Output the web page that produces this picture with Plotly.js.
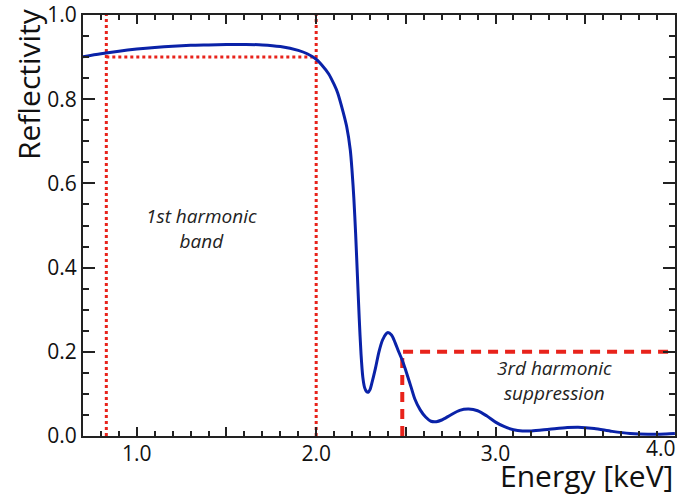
<!DOCTYPE html>
<html>
<head>
<meta charset="utf-8">
<script src="https://cdn.plot.ly/plotly-3.0.1.min.js"></script>
<style>html,body{margin:0;padding:0;background:#fff;}#chart{width:681px;height:498px;}</style>
</head>
<body>
<div id="chart"></div>
<script>
// Reflectivity curve (energy in keV)
const energy = [0.70,0.80,0.90,1.00,1.10,1.20,1.30,1.40,1.50,1.60,1.70,1.80,1.90,1.95,2.00,2.03,2.07,2.10,2.12,2.15,2.17,2.19,2.20,2.21,2.22,2.23,2.24,2.25,2.26,2.27,2.28,2.29,2.30,2.31,2.33,2.35,2.37,2.39,2.40,2.42,2.44,2.46,2.48,2.50,2.53,2.55,2.58,2.61,2.64,2.67,2.70,2.75,2.80,2.85,2.90,2.95,3.00,3.05,3.10,3.15,3.20,3.30,3.40,3.46,3.55,3.65,3.75,3.85,3.95,4.00];
const reflectivity = [0.901,0.908,0.914,0.919,0.923,0.926,0.928,0.929,0.930,0.930,0.929,0.925,0.916,0.908,0.895,0.882,0.860,0.835,0.815,0.770,0.735,0.680,0.630,0.565,0.480,0.380,0.280,0.195,0.140,0.115,0.106,0.104,0.110,0.125,0.160,0.200,0.228,0.243,0.246,0.240,0.222,0.200,0.180,0.155,0.115,0.088,0.062,0.045,0.035,0.034,0.038,0.050,0.061,0.064,0.060,0.048,0.033,0.022,0.015,0.012,0.012,0.016,0.020,0.021,0.018,0.011,0.006,0.004,0.005,0.006];

// 1st harmonic band markers (dotted)
const bandLowX = [0.83, 0.83];
const bandLowY = [0.0, 1.0];
const bandHighX = [2.0, 2.0];
const bandHighY = [0.0, 1.0];
const bandLevelX = [0.83, 2.0];
const bandLevelY = [0.9, 0.9];

// 3rd harmonic suppression markers (dashed)
const suppX = [2.48, 2.48, 4.0];
const suppY = [0.0, 0.2, 0.2];

// Axis ticks: long ticks every 0.5 keV, labels only on whole keV
const xTickVals = [1.0, 1.5, 2.0, 2.5, 3.0, 3.5, 4.0];
const xTickText = ['1.0', ' ', '2.0', ' ', '3.0', ' ', ' '];
const xLastLabel = '4.0';
const xRange = [0.7, 4.0005];
const yRange = [0, 1.0];

const red = '#e8231b';
const blue = '#0a22a8';
const tickCol = '#222222';
const font = 'Open Sans, Liberation Sans, sans-serif';

const traces = [
  {x: bandLowX, y: bandLowY, mode:'lines', line:{color:red, width:3, dash:'dot'}, hoverinfo:'skip'},
  {x: bandHighX, y: bandHighY, mode:'lines', line:{color:red, width:3, dash:'dot'}, hoverinfo:'skip'},
  {x: bandLevelX, y: bandLevelY, mode:'lines', line:{color:red, width:3, dash:'dot'}, hoverinfo:'skip'},
  {x: suppX, y: suppY, mode:'lines', line:{color:red, width:4, dash:'10px,7px'}, hoverinfo:'skip'},
  {x: energy, y: reflectivity, mode:'lines', line:{color:blue, width:3, shape:'spline', smoothing:0.8}}
];

const layout = {
  width: 681, height: 498,
  margin: {l:83, r:6, t:15, b:62},
  showlegend: false,
  paper_bgcolor:'#fff', plot_bgcolor:'#fff',
  font: {family: font, color:'#111'},
  xaxis: {
    range:xRange, showgrid:false, zeroline:false,
    showline:true, linecolor:tickCol, linewidth:2, mirror:'ticks',
    ticks:'inside', ticklen:9, tickwidth:2, tickcolor:tickCol,
    tickmode:'array', tickvals:xTickVals, ticktext:xTickText, ticklabelstandoff:-2,
    tickfont:{size:21, family:font, color:'#111'},
    minor:{dtick:0.1, tick0:0, ticks:'inside', ticklen:5, tickwidth:2, tickcolor:tickCol, showgrid:false}
  },
  yaxis: {
    range:yRange, showgrid:false, zeroline:false,
    showline:true, linecolor:tickCol, linewidth:2, mirror:'ticks',
    ticks:'inside', ticklen:12, tickwidth:2, tickcolor:tickCol,
    tickmode:'linear', tick0:0, dtick:0.2, tickformat:'.1f',
    tickfont:{size:21, family:font, color:'#111'},
    minor:{dtick:0.05, tick0:0, ticks:'inside', ticklen:6, tickwidth:2, tickcolor:tickCol, showgrid:false}
  },
  annotations: [
    {xref:'paper', yref:'paper', x:-0.093, y:0.836, xanchor:'center', yanchor:'middle', textangle:-90,
     text:'Reflectivity', showarrow:false, font:{size:30, family:font, color:'#111'}},
    {xref:'paper', yref:'paper', x:1.0, y:-0.147, xanchor:'right', yanchor:'bottom',
     text:'Energy [keV]', showarrow:false, font:{size:30, family:font, color:'#111'}},
    {xref:'paper', yref:'paper', x:1.005, y:-0.029, xanchor:'right', yanchor:'middle',
     text:xLastLabel, showarrow:false, font:{size:21, family:font, color:'#111'}},
    {xref:'x', yref:'y', x:1.36, y:0.494, text:'<i>1st harmonic<br>band</i>', showarrow:false,
     font:{size:19, family:font, color:'#222'}, align:'center'},
    {xref:'x', yref:'y', x:3.33, y:0.133, text:'<i>3rd harmonic<br>suppression</i>', showarrow:false,
     font:{size:19, family:font, color:'#222'}, align:'center'}
  ]
};

Plotly.newPlot('chart', traces, layout, {staticPlot:true, displayModeBar:false});
</script>
</body>
</html>
